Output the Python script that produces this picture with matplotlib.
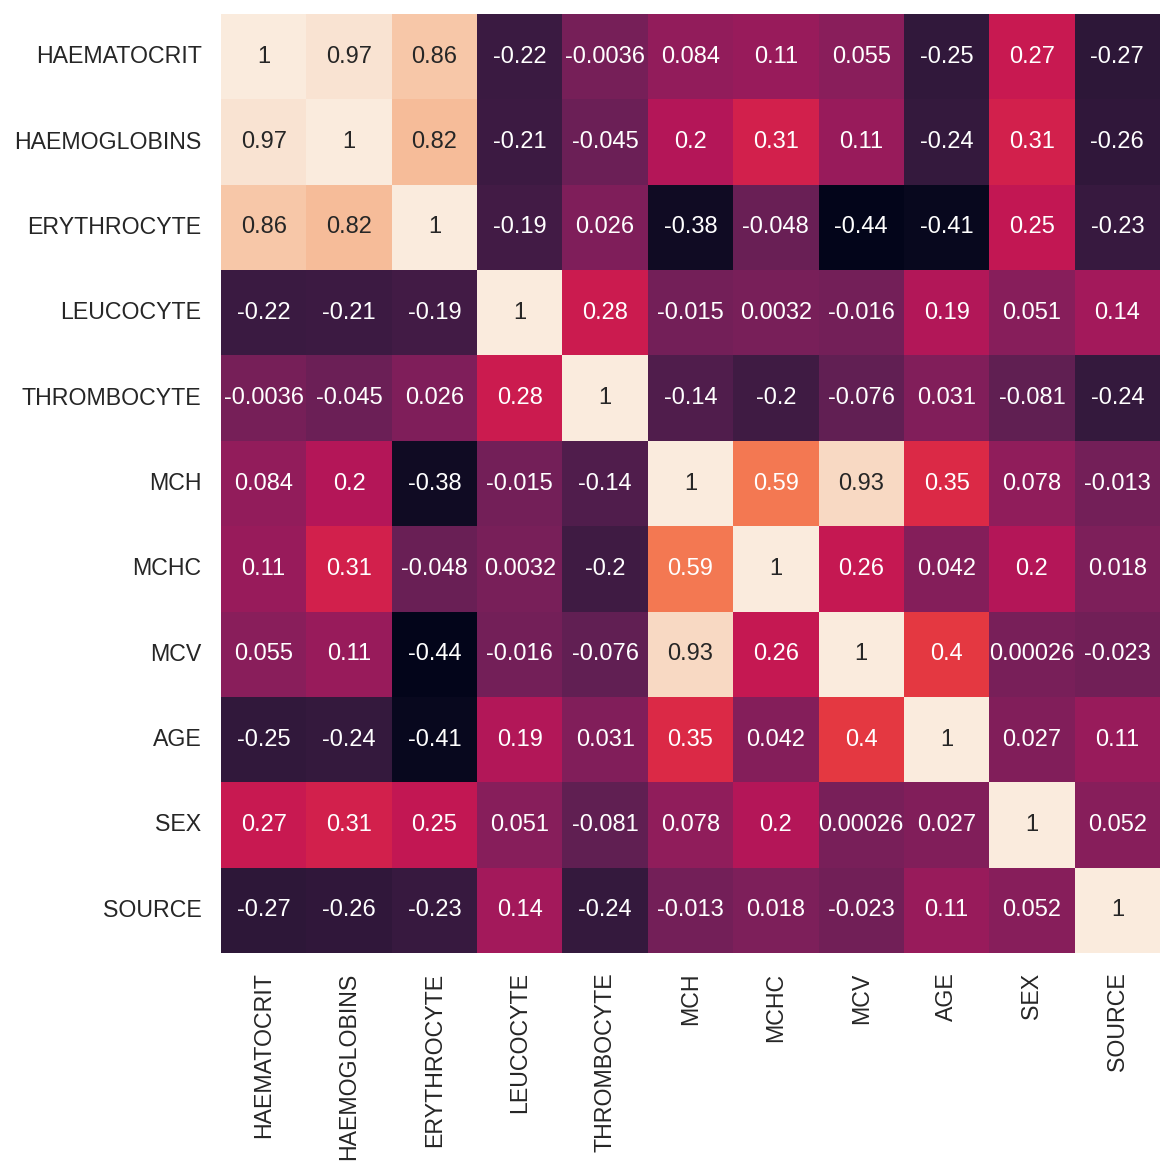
import numpy as np
import pandas as pd
import matplotlib
matplotlib.use("Agg")
import matplotlib.pyplot as plt
import seaborn as sns

# correlation matrix
labels = ["HAEMATOCRIT", "HAEMOGLOBINS", "ERYTHROCYTE", "LEUCOCYTE", "THROMBOCYTE",
          "MCH", "MCHC", "MCV", "AGE", "SEX", "SOURCE"]

haematocrit = [1, 0.97, 0.86, -0.22, -0.0036, 0.084, 0.11, 0.055, -0.25, 0.27, -0.27]
haemoglobins = [0.97, 1, 0.82, -0.21, -0.045, 0.2, 0.31, 0.11, -0.24, 0.31, -0.26]
erythrocyte = [0.86, 0.82, 1, -0.19, 0.026, -0.38, -0.048, -0.44, -0.41, 0.25, -0.23]
leucocyte = [-0.22, -0.21, -0.19, 1, 0.28, -0.015, 0.0032, -0.016, 0.19, 0.051, 0.14]
thrombocyte = [-0.0036, -0.045, 0.026, 0.28, 1, -0.14, -0.2, -0.076, 0.031, -0.081, -0.24]
mch = [0.084, 0.2, -0.38, -0.015, -0.14, 1, 0.59, 0.93, 0.35, 0.078, -0.013]
mchc = [0.11, 0.31, -0.048, 0.0032, -0.2, 0.59, 1, 0.26, 0.042, 0.2, 0.018]
mcv = [0.055, 0.11, -0.44, -0.016, -0.076, 0.93, 0.26, 1, 0.4, 0.00026, -0.023]
age = [-0.25, -0.24, -0.41, 0.19, 0.031, 0.35, 0.042, 0.4, 1, 0.027, 0.11]
sex = [0.27, 0.31, 0.25, 0.051, -0.081, 0.078, 0.2, 0.00026, 0.027, 1, 0.052]
source = [-0.27, -0.26, -0.23, 0.14, -0.24, -0.013, 0.018, -0.023, 0.11, 0.052, 1]

corr = pd.DataFrame(
    [haematocrit, haemoglobins, erythrocyte, leucocyte, thrombocyte,
     mch, mchc, mcv, age, sex, source],
    index=labels, columns=labels
)

sns.set_theme(style="darkgrid")
plt.rcParams["font.family"] = ["Liberation Sans", "DejaVu Sans"]

fs = 16.7
fig = plt.figure(figsize=(11.76, 11.76), dpi=100)
ax = fig.add_axes([221 / 1176, 1 - 954 / 1176, (1160 - 221) / 1176, (954 - 13) / 1176])
sns.heatmap(corr, annot=True, cbar=False, square=True, ax=ax,
            annot_kws={"fontsize": fs + 0.3})
ax.tick_params(axis="both", labelsize=fs, length=0, pad=14, colors=".15")
plt.setp(ax.get_yticklabels(), rotation=0)
plt.setp(ax.get_xticklabels(), rotation=90)

fig.savefig("out.png", dpi=100)
